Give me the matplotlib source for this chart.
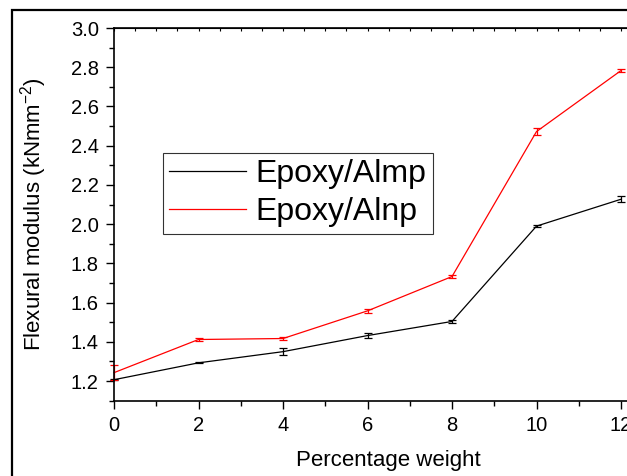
import numpy as np
import matplotlib
matplotlib.use("Agg")
import matplotlib.pyplot as plt
from matplotlib.patches import Rectangle
from matplotlib.lines import Line2D
from matplotlib.ticker import MultipleLocator, FormatStrFormatter

plt.rcParams['font.family'] = ['Liberation Sans', 'DejaVu Sans']
plt.rcParams['mathtext.fontset'] = 'custom'
plt.rcParams['mathtext.rm'] = 'Liberation Sans'

# percentage weight of filler
wt = [0, 2, 4, 6, 8, 10, 12]

# flexural modulus (kN mm^-2) and error bars
almp = [1.207, 1.293, 1.350, 1.432, 1.504, 1.990, 2.127]
almp_err = [0.003, 0.003, 0.018, 0.011, 0.006, 0.005, 0.016]
alnp = [1.243, 1.412, 1.417, 1.558, 1.733, 2.472, 2.783]
alnp_err = [0.040, 0.010, 0.008, 0.009, 0.007, 0.017, 0.006]

labels = ['Epoxy/Almp', 'Epoxy/Alnp']
colors = ['black', 'red']

W, H = 627, 476
fig = plt.figure(figsize=(W / 100, H / 100), dpi=100)

# axes box in pixels (right edge falls outside the picture)
x0, x1 = 114, 114 + 13 * 42.25
y_top, y_bot = 28, 400.7
ax = fig.add_axes([x0 / W, 1 - y_bot / H, (x1 - x0) / W, (y_bot - y_top) / H])

for y, e, c in zip([almp, alnp], [almp_err, alnp_err], colors):
    ax.errorbar(wt, y, yerr=e, color=c, lw=0.9, elinewidth=0.9, capsize=3,
                capthick=0.9, clip_on=False)

ax.set_xlim(0, 13)
ax.set_ylim(1.1, 3.0)
ax.xaxis.set_major_locator(MultipleLocator(2))
ax.xaxis.set_minor_locator(MultipleLocator(1))
ax.yaxis.set_major_locator(MultipleLocator(0.2))
ax.yaxis.set_minor_locator(MultipleLocator(0.1))
ax.yaxis.set_major_formatter(FormatStrFormatter('%.1f'))
ax.tick_params(which='major', direction='out', length=6, width=1, labelsize=14.5, pad=5)
ax.tick_params(which='minor', direction='out', length=3.5, width=1)
for s in ax.spines.values():
    s.set_linewidth(1.2)

# small inward ticks along the top edge
top = ax.secondary_xaxis('top')
top.set_xticks(np.arange(0, 13.01, 0.5))
top.tick_params(direction='in', length=2, width=0.8, labeltop=False)
top.xaxis.set_minor_locator(plt.NullLocator())

ax.set_xlabel('Percentage weight', fontsize=16)
ax.xaxis.set_label_coords(0.5, -0.133)
ax.set_ylabel('Flexural modulus (kNmm$^{\\mathregular{-2}}$)', fontsize=16)
ax.yaxis.set_label_coords(-0.118, 0.5)

handles = [Line2D([], [], color=c, lw=0.9) for c in colors]
leg = ax.legend(handles, labels, loc='upper left',
                bbox_to_anchor=((163 - x0) / (x1 - x0), (y_bot - 153) / (y_bot - y_top)),
                fontsize=23, frameon=True, fancybox=False, edgecolor='black',
                handlelength=2.4, handletextpad=0.3, borderpad=0.2, labelspacing=0.25,
                borderaxespad=0)
leg.get_frame().set_linewidth(0.8)

# outer frame of the original figure
fig.patches.append(Rectangle((12 / W, -0.1), 1.2, 1 - 10 / H + 0.1, transform=fig.transFigure,
                             fill=False, edgecolor='black', lw=1.6, clip_on=False))

fig.savefig('out.png', dpi=100)
